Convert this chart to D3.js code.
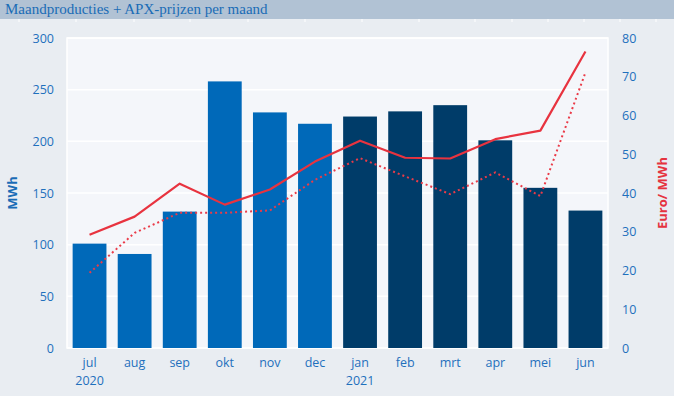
<!DOCTYPE html>
<html>
<head>
<meta charset="utf-8">
<script src="https://cdn.jsdelivr.net/npm/d3@7"></script>
<style>
  body { margin: 0; background: #e9edf2; }
  svg { display: block; font-family: "Open Sans", "Noto Sans", sans-serif; }
</style>
</head>
<body>
<svg id="chart" width="674" height="396"></svg>
<script>
// chart data
const months = ["jul", "aug", "sep", "okt", "nov", "dec", "jan", "feb", "mrt", "apr", "mei", "jun"];
const yearLabels = ["2020", "", "", "", "", "", "2021", "", "", "", "", ""];
const production = [101, 91, 132, 258, 228, 217, 224, 229, 235, 201, 155, 133];
const apxPrice = [29.2, 33.9, 42.4, 37.0, 40.9, 48.1, 53.5, 49.1, 48.9, 53.9, 56.1, 76.5];
const apxPriceDotted = [19.4, 29.7, 34.9, 34.9, 35.5, 43.4, 49.0, 44.3, 39.7, 45.3, 39.2, 71.1];
const leftTicks = [0, 50, 100, 150, 200, 250, 300];
const rightTicks = [0, 10, 20, 30, 40, 50, 60, 70, 80];
const headerTicks = [19, 76, 134, 190, 248, 305, 362, 419, 475, 512, 548, 584, 620, 656];

const width = 674, height = 396;
const margin = { top: 38, right: 66, bottom: 48, left: 67 };

const svg = d3.select("#chart");

// title bar
svg.append("rect")
  .attr("width", width).attr("height", 19)
  .attr("fill", "#b1c2d4");
svg.append("text")
  .attr("x", 5).attr("y", 14)
  .attr("fill", "#1a6cb6")
  .style("font-family", "'Liberation Serif', serif")
  .style("font-size", "15px")
  .text("Maandproducties + APX-prijzen per maand");

// little white marks under the header
svg.append("g").selectAll("line")
  .data(headerTicks)
  .enter()
  .append("line")
  .attr("x1", d => d).attr("x2", d => d)
  .attr("y1", 19).attr("y2", 22)
  .attr("stroke", "#ffffff")
  .attr("stroke-width", 1);

const x = d3.scaleBand()
  .domain(months)
  .range([margin.left, width - margin.right])
  .paddingInner(0.25)
  .paddingOuter(0.125);

const yLeft = d3.scaleLinear([0, 300], [height - margin.bottom, margin.top]);
const yRight = d3.scaleLinear([0, 80], [height - margin.bottom, margin.top]);

// plot area
svg.append("rect")
  .attr("x", margin.left).attr("y", margin.top)
  .attr("width", width - margin.left - margin.right)
  .attr("height", height - margin.top - margin.bottom)
  .attr("fill", "#f4f6fa")
  .attr("stroke", "#ffffff")
  .attr("stroke-width", 1.5);

// gridlines
svg.append("g").selectAll("line")
  .data(leftTicks)
  .enter()
  .append("line")
  .attr("x1", margin.left).attr("x2", width - margin.right)
  .attr("y1", d => yLeft(d)).attr("y2", d => yLeft(d))
  .attr("stroke", "#ffffff")
  .attr("stroke-width", 1.5);

// bars
svg.append("g").selectAll("rect")
  .data(production)
  .enter()
  .append("rect")
  .attr("x", (d, i) => x(months[i]))
  .attr("y", d => yLeft(d))
  .attr("width", x.bandwidth())
  .attr("height", d => yLeft(0) - yLeft(d))
  .attr("fill", (d, i) => i < 6 ? "#0069b9" : "#003c69");

// lines
const line = d3.line()
  .x((d, i) => x(months[i]) + x.bandwidth() / 2)
  .y(d => yRight(d));

svg.append("path")
  .datum(apxPriceDotted)
  .attr("d", line)
  .attr("fill", "none")
  .attr("stroke", "#ea3b48")
  .attr("stroke-width", 2)
  .attr("stroke-dasharray", "2,3");

svg.append("path")
  .datum(apxPrice)
  .attr("d", line)
  .attr("fill", "none")
  .attr("stroke", "#e8333f")
  .attr("stroke-width", 2.2)
  .attr("stroke-linejoin", "round");

// axes
const tickColor = "#1f70bd";

const leftAxis = svg.append("g")
  .attr("transform", `translate(${margin.left - 13},0)`)
  .call(d3.axisLeft(yLeft).tickValues(leftTicks).tickSize(0).tickPadding(0));
const rightAxis = svg.append("g")
  .attr("transform", `translate(${width - margin.right + 14},0)`)
  .call(d3.axisRight(yRight).tickValues(rightTicks).tickSize(0).tickPadding(0));
const bottomAxis = svg.append("g")
  .attr("transform", `translate(0,${height - margin.bottom + 10})`)
  .call(d3.axisBottom(x).tickSize(0).tickPadding(0));

[leftAxis, rightAxis, bottomAxis].forEach(a => {
  a.select(".domain").remove();
  a.selectAll("text")
    .attr("fill", tickColor)
    .style("font-family", "'Open Sans', sans-serif")
    .style("font-size", "12.5px");
});
bottomAxis.selectAll("text").attr("dy", "0.71em");

// year labels under jul and jan
svg.append("g").selectAll("text")
  .data(yearLabels)
  .enter()
  .append("text")
  .attr("x", (d, i) => x(months[i]) + x.bandwidth() / 2)
  .attr("y", 385)
  .attr("text-anchor", "middle")
  .attr("fill", tickColor)
  .style("font-size", "12.5px")
  .text(d => d);

// axis titles
svg.append("text")
  .attr("transform", `translate(17,${(margin.top + height - margin.bottom) / 2}) rotate(-90)`)
  .attr("text-anchor", "middle")
  .attr("fill", "#1a6cb6")
  .style("font-weight", "bold")
  .style("font-size", "13px")
  .text("MWh");

svg.append("text")
  .attr("transform", `translate(667,${(margin.top + height - margin.bottom) / 2}) rotate(-90)`)
  .attr("text-anchor", "middle")
  .attr("fill", "#e5333f")
  .style("font-weight", "bold")
  .style("font-size", "13px")
  .text("Euro/ MWh");
</script>
</body>
</html>
